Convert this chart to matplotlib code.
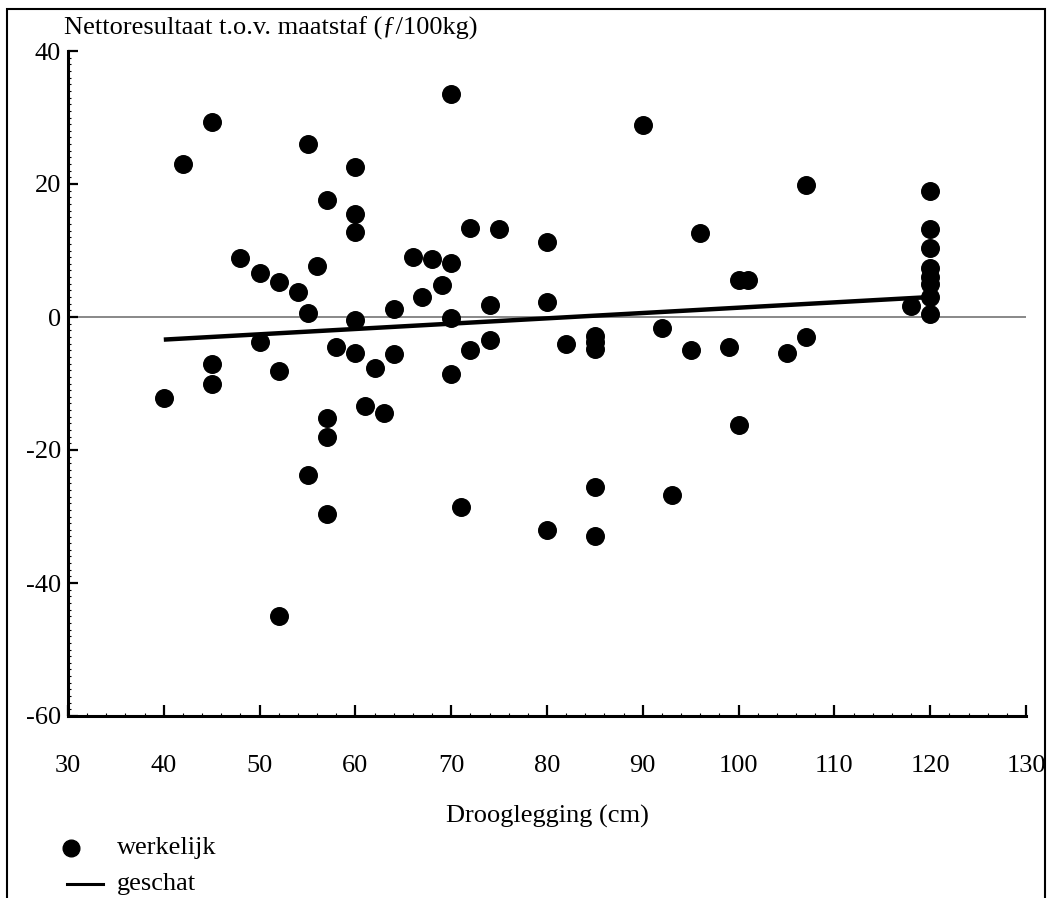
import matplotlib
matplotlib.use("Agg")
import matplotlib.pyplot as plt
from matplotlib.lines import Line2D
from matplotlib.patches import Rectangle
from matplotlib.ticker import MultipleLocator

plt.rcParams['font.family'] = ['Liberation Serif', 'DejaVu Serif']
plt.rcParams['axes.unicode_minus'] = False

# werkelijk: drooglegging (cm) en nettoresultaat (f/100kg)
drooglegging = [40, 42, 45, 45, 45, 48, 50, 50, 52, 52, 52, 54, 55, 55, 55,
                56, 57, 57, 57, 57, 58, 60, 60, 60, 60, 60, 61, 62, 63, 64,
                64, 66, 67, 68, 69, 70, 70, 70, 70, 71, 72, 72, 74, 74, 75,
                80, 80, 80, 82, 85, 85, 85, 85, 85, 90, 92, 93, 96, 95, 99,
                100, 101, 100, 105, 107, 107, 118,
                120, 120, 120, 120, 120, 120, 120, 120]
resultaat = [-12.2, 23.0, 29.3, -7.0, -10.0, 8.8, 6.6, -3.8, 5.3, -8.1, -45.0, 3.8, 26.0, 0.6, -23.8,
             7.7, 17.6, -15.2, -18.1, -29.6, -4.5, 22.6, 15.5, 12.8, -0.5, -5.4, -13.4, -7.6, -14.5, 1.2,
             -5.6, 9.0, 3.0, 8.7, 4.8, 33.5, 8.1, -0.2, -8.6, -28.6, 13.4, -5.0, 1.8, -3.5, 13.3,
             11.3, 2.3, -32.0, -4.0, -2.8, -3.8, -4.8, -25.6, -33.0, 28.8, -1.7, -26.8, 12.7, -5.0, -4.5,
             5.6, 5.6, -16.3, -5.4, -3.0, 19.9, 1.7,
             19.0, 13.3, 10.4, 7.4, 6.0, 4.9, 3.0, 0.5]

# geschat: regressielijn
geschat_x = [40, 120]
geschat_y = [-3.4, 3.0]

W, H = 1047, 898
fig = plt.figure(figsize=(W / 100, H / 100), dpi=100)
ax = fig.add_axes([68 / W, 1 - 716 / H, (1026 - 68) / W, (716 - 51) / H])

ax.axhline(0, color='#888888', lw=1.4, zorder=1)
ax.plot(geschat_x, geschat_y, color='black', lw=3.2, solid_capstyle='butt', zorder=2)
ax.scatter(drooglegging, resultaat, s=160, color='black', zorder=3)

ax.set_xlim(30, 130)
ax.set_ylim(-60, 40)
ax.set_xticks(range(30, 131, 10))
ax.set_yticks(range(-60, 41, 20))
ax.xaxis.set_minor_locator(MultipleLocator(2))
ax.yaxis.set_minor_locator(MultipleLocator(1))

for side in ['top', 'right']:
    ax.spines[side].set_visible(False)
for side in ['left', 'bottom']:
    ax.spines[side].set_linewidth(2.2)

ax.tick_params(axis='x', which='major', direction='in', length=8, width=1.6, pad=28, labelsize=19)
ax.tick_params(axis='y', which='major', direction='in', length=7, width=1.6, pad=5, labelsize=19)
ax.tick_params(which='minor', direction='in', length=2, width=0.8)

ax.set_xlabel('Drooglegging (cm)', fontsize=19, labelpad=20)
fig.text(64 / W, 1 - 28 / H, 'Nettoresultaat t.o.v. maatstaf (\u0192/100kg)',
         fontsize=19, ha='left', va='center')

# legenda onder de figuur
fig.add_artist(Line2D([71 / W], [1 - 848 / H], marker='o', ls='none', color='black',
                      markersize=12, transform=fig.transFigure))
fig.add_artist(Line2D([67 / W, 103 / W], [1 - 884 / H] * 2, color='black', lw=2.2,
                      transform=fig.transFigure))
fig.text(117 / W, 1 - 848 / H, 'werkelijk', fontsize=19, ha='left', va='center')
fig.text(117 / W, 1 - 884 / H, 'geschat', fontsize=19, ha='left', va='center')

# kader rond de figuur
fig.add_artist(Rectangle((7 / W, -0.05), (1045 - 7) / W, 1.05 - 9 / H,
                         transform=fig.transFigure, fill=False, lw=1.5,
                         edgecolor='black', clip_on=False))

fig.savefig('out.png', dpi=100)
